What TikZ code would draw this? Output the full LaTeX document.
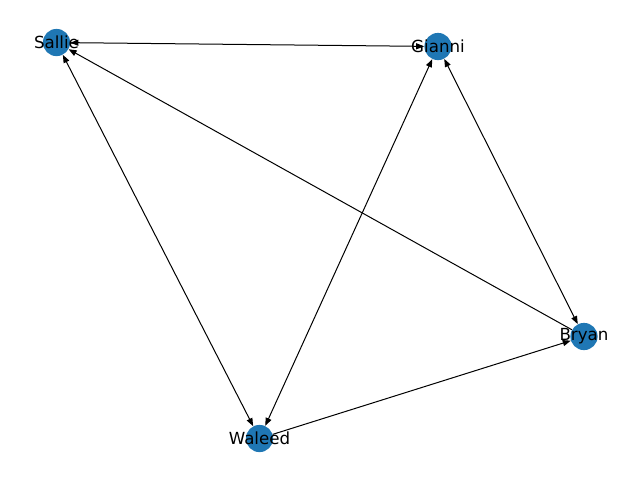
\documentclass[tikz,border=0pt]{standalone}
\usepackage{fontspec}
\setmainfont{DejaVu Sans}
\usetikzlibrary{arrows.meta}
\begin{document}
\begin{tikzpicture}[x=0.75pt,y=-0.75pt,
  vert/.style={circle,fill={rgb,255:red,31;green,119;blue,180},draw=none,minimum size=20.4pt,inner sep=0pt},
  lab/.style={inner sep=0pt,font=\fontsize{12.5}{15}\selectfont},
  edge/.style={line width=0.75pt,-{Triangle[length=6pt,width=4.5pt]}},
  bedge/.style={line width=0.75pt,{Triangle[length=6pt,width=4.5pt]}-{Triangle[length=6pt,width=4.5pt]}}]
\useasboundingbox (0,0) rectangle (640,480);
\node[vert] (S) at (56.5,42.5) {};
\node[vert] (G) at (438,46.5) {};
\node[vert] (B) at (584,336.5) {};
\node[vert] (W) at (259.5,438.5) {};
\draw[bedge] (S) -- (G);
\draw[bedge] (S) -- (W);
\draw[bedge] (G) -- (W);
\draw[bedge] (G) -- (B);
\draw[edge] (B) -- (S);
\draw[edge] (W) -- (B);
\node[lab] (Sl) at (S) {Sallie};
\node[lab] (Gl) at (G) {Gianni};
\node[lab] (Bl) at (B) {Bryan};
\node[lab] (Wl) at (W) {Waleed};
\end{tikzpicture}
\end{document}
